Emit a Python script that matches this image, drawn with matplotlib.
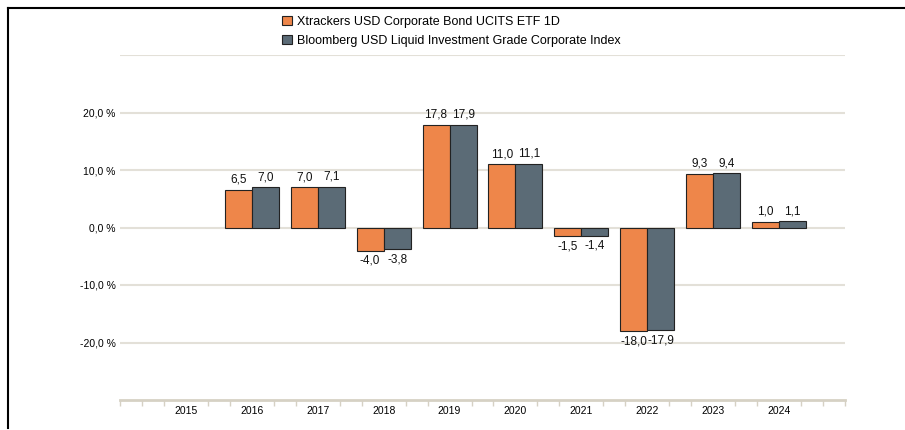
import numpy as np
import matplotlib.pyplot as plt
from matplotlib.patches import Patch
from matplotlib.lines import Line2D

plt.rcParams['font.family'] = ['Liberation Sans', 'DejaVu Sans']

years = ['2015', '2016', '2017', '2018', '2019', '2020', '2021', '2022', '2023', '2024']
fund = [np.nan, 6.5, 7.0, -4.0, 17.8, 11.0, -1.5, -18.0, 9.3, 1.0]
index = [np.nan, 7.0, 7.1, -3.8, 17.9, 11.1, -1.4, -17.9, 9.4, 1.1]
fund_name = 'Xtrackers USD Corporate Bond UCITS ETF 1D'
index_name = 'Bloomberg USD Liquid Investment Grade Corporate Index'

orange = '#EE864A'
slate = '#5B6B76'
grid_col = '#E3E0D8'

fig = plt.figure(figsize=(9.05, 4.3), dpi=100)
ax = fig.add_axes([120 / 905, 30 / 430, 725 / 905, 345 / 430])

x = np.arange(len(years))
w = 0.41
ax.bar(x - w / 2, fund, w, color=orange, edgecolor='#222222', linewidth=0.8, zorder=3)
ax.bar(x + w / 2, index, w, color=slate, edgecolor='#222222', linewidth=0.8, zorder=3)

def fmt(v):
    return f'{v:.1f}'.replace('.', ',')

for xs, vals in ((x - w / 2, fund), (x + w / 2, index)):
    for xi, v in zip(xs, vals):
        if np.isnan(v):
            continue
        if v >= 0:
            ax.annotate(fmt(v), (xi, v), xytext=(0, 3), textcoords='offset points',
                        ha='center', va='bottom', fontsize=8.5, color='#111111')
        else:
            ax.annotate(fmt(v), (xi, v), xytext=(0, -3), textcoords='offset points',
                        ha='center', va='top', fontsize=8.5, color='#111111')

ax.set_xlim(-1, 10)
ax.set_ylim(-30, 30)

# horizontal grid
for g in [30, 20, 10, 0, -10, -20]:
    ax.axhline(g, color=grid_col, lw=1.5, zorder=1)
ax.set_yticks([20, 10, 0, -10, -20])
ax.set_yticklabels([fmt(v) + ' %' for v in [20, 10, 0, -10, -20]], fontsize=7.5)
ax.tick_params(axis='y', length=0, pad=3)

# x axis: year labels at centres, small ticks in between
ax.set_xticks(x)
ax.set_xticklabels(years, fontsize=7.5)
ax.tick_params(axis='x', length=0, pad=4)
minor = [k / 3 for k in range(-3, 31) if not (k % 3 == 0 and 0 <= k <= 27)]
ax.set_xticks(minor, minor=True)
ax.tick_params(axis='x', which='minor', length=4, width=1, color='#D6D1C4', direction='out')

for s in ['top', 'right', 'left']:
    ax.spines[s].set_visible(False)
ax.spines['bottom'].set_color('#D6D1C4')
ax.spines['bottom'].set_linewidth(2)

handles = [Patch(facecolor=orange, edgecolor='#222222', lw=0.8),
           Patch(facecolor=slate, edgecolor='#222222', lw=0.8)]
fig.legend(handles, [fund_name, index_name], loc='upper left',
           bbox_to_anchor=(271 / 905, 1 - 5 / 430), frameon=False, fontsize=9,
           handlelength=0.75, handleheight=0.75, handletextpad=0.45, labelspacing=0.55)

# page border (top and left)
fig.add_artist(Line2D([8 / 905, 1], [1 - 8 / 430] * 2, color='black', lw=1.5,
                      transform=fig.transFigure))
fig.add_artist(Line2D([8 / 905] * 2, [1 - 8 / 430, 2 / 430], color='black', lw=1.5,
                      transform=fig.transFigure))

fig.savefig('out.png', dpi=100)
